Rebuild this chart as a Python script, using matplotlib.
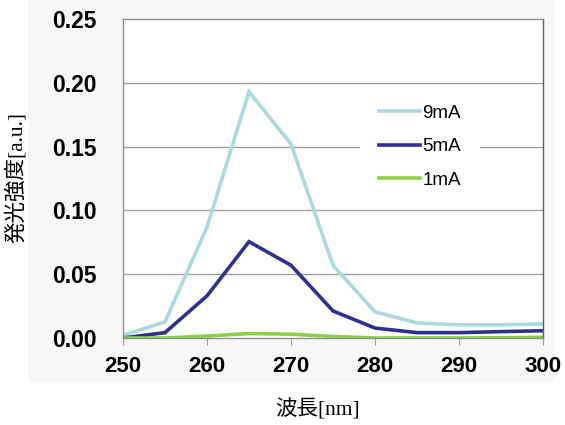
import matplotlib
matplotlib.use('Agg')
import matplotlib.pyplot as plt
from matplotlib.patches import Rectangle

# wavelength [nm]
wavelength = [250, 255, 260, 265, 270, 275, 280, 285, 290, 295, 300]
# emission intensity [a.u.]
i_9ma = [0.002, 0.0126, 0.087, 0.193, 0.152, 0.057, 0.0205, 0.0118, 0.0103, 0.0103, 0.011]
i_5ma = [0.0, 0.0042, 0.033, 0.0755, 0.057, 0.0212, 0.0078, 0.0042, 0.0042, 0.005, 0.0057]
i_1ma = [0.0, 0.0, 0.0015, 0.0035, 0.003, 0.0012, 0.0, 0.0, 0.0, 0.0002, 0.0005]

xticks = [250, 260, 270, 280, 290, 300]
yticks = [0.00, 0.05, 0.10, 0.15, 0.20, 0.25]

fig = plt.figure(figsize=(5.65, 4.25), dpi=100)
fig.patches.append(Rectangle((28/565, 1 - 382/425), 527/565, 382/425, transform=fig.transFigure,
                             facecolor='#f7f7f7', edgecolor='none', zorder=-1))
ax = fig.add_axes([123/565, 1 - 338/425, 420/565, 319/425])
ax.set_facecolor('white')

ax.plot(wavelength, i_9ma, color='#a9dadd', linewidth=2.6, label='9mA', solid_joinstyle='miter')
ax.plot(wavelength, i_5ma, color='#2e3192', linewidth=2.6, label='5mA', solid_joinstyle='miter')
ax.plot(wavelength, i_1ma, color='#8cd04a', linewidth=2.6, label='1mA', solid_joinstyle='miter')

ax.set_xlim(250, 300)
ax.set_ylim(0, 0.25)
ax.set_xticks(xticks)
ax.set_yticks(yticks)
ax.set_yticklabels(['%.2f' % v for v in yticks])
for v in yticks[1:-1]:
    ax.axhline(v, color='#a0a0a0', linewidth=1.0, zorder=0)

for lab in ax.get_xticklabels():
    lab.set_fontfamily('Liberation Sans')
    lab.set_fontweight('bold')
    lab.set_fontsize(16)
for lab in ax.get_yticklabels():
    lab.set_fontfamily('Liberation Sans')
    lab.set_fontweight('bold')
    lab.set_fontsize(16.5)
ax.tick_params(axis='x', direction='out', length=5, color='#a0a0a0', pad=8)
ax.tick_params(axis='y', length=0, pad=19)

for s in ax.spines.values():
    s.set_color('#909090')
    s.set_linewidth(1.0)
ax.spines['right'].set_color('#606060')

jp = ['Liberation Serif', 'Noto Sans CJK JP']
ax.set_xlabel('波長[nm]', family=jp, fontsize=15.5)
ax.set_ylabel('発光強度[a.u.]', family=jp, fontsize=15.5)
ax.xaxis.set_label_coords(0.464, -0.19)
ax.yaxis.set_label_coords(-0.228, 0.503)

leg = ax.legend(loc='upper left', bbox_to_anchor=(0.564, 0.79), borderaxespad=0, frameon=True,
                fancybox=False, handlelength=2.2, handletextpad=0.12, labelspacing=0.87,
                borderpad=1.0, prop={'family': 'Liberation Sans', 'size': 13.5})
leg.get_frame().set_facecolor('white')
leg.get_frame().set_edgecolor('none')
leg.get_frame().set_alpha(1)

fig.savefig('out.png', dpi=100)
